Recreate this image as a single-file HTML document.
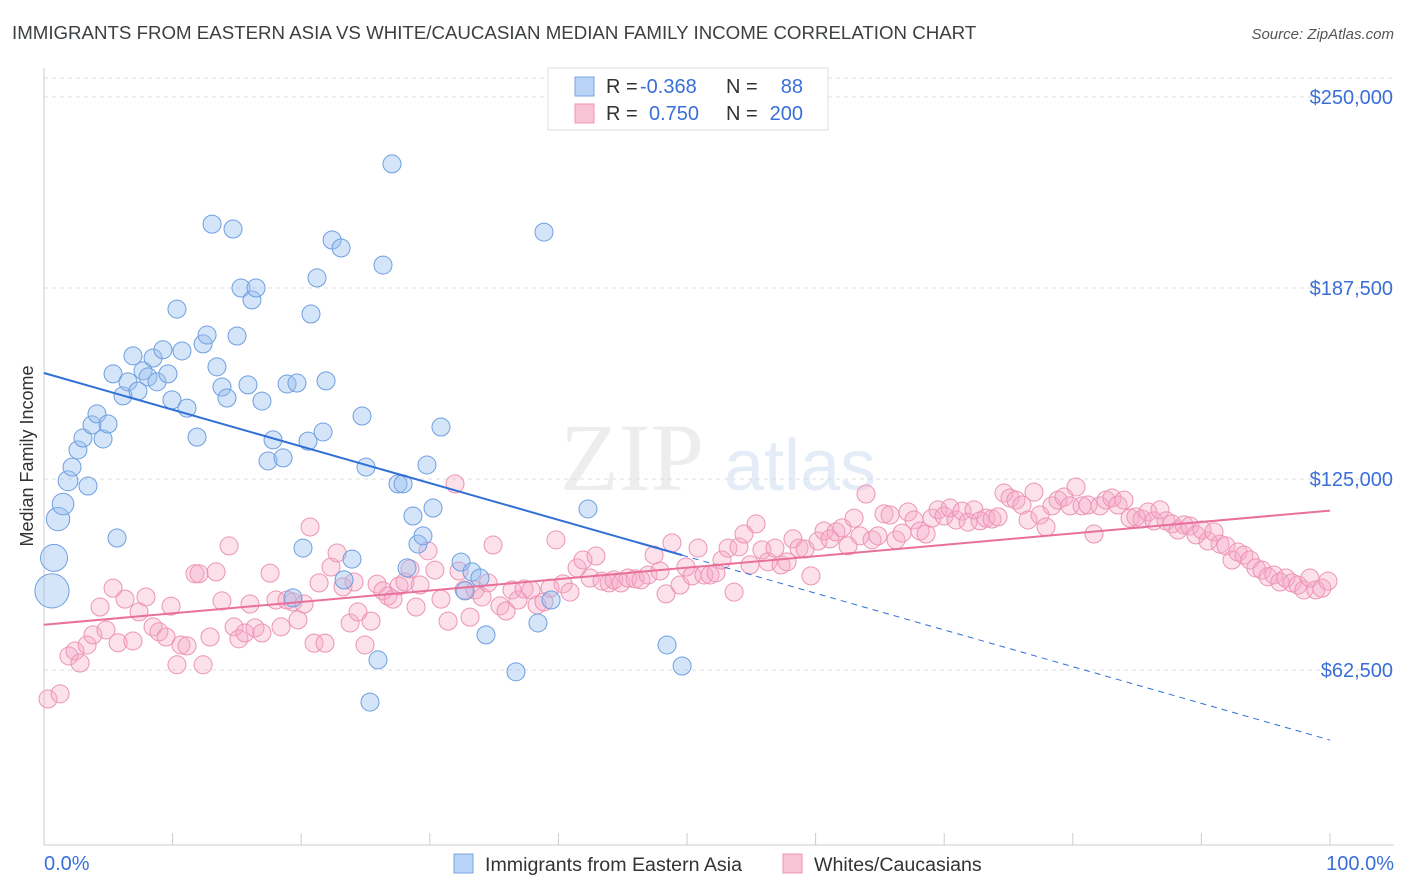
<!DOCTYPE html>
<html><head><meta charset="utf-8"><style>
body{margin:0;background:#fff;font-family:"Liberation Sans",sans-serif;}
svg{display:block}
</style></head><body>
<svg id="chart" width="1406" height="892" xmlns="http://www.w3.org/2000/svg">
<text x="12" y="39" font-size="18.7" fill="#3c4043">IMMIGRANTS FROM EASTERN ASIA VS WHITE/CAUCASIAN MEDIAN FAMILY INCOME CORRELATION CHART</text>
<text x="1394" y="39" font-size="15" fill="#555" text-anchor="end" font-style="italic">Source: ZipAtlas.com</text>
<text transform="translate(33,456) rotate(-90)" font-size="18" fill="#333" text-anchor="middle">Median Family Income</text>
<g opacity="0.5">
<text x="632" y="490" font-size="96" fill="#ddd" text-anchor="middle" font-family="Liberation Serif, serif">ZIP</text>
<text x="800" y="490" font-size="72" fill="#c9daf0" text-anchor="middle">atlas</text>
</g>
<g id="grid"></g><g id="axes"></g><g id="pts"></g><g id="lines"></g>
<g>
<rect x="548" y="68" width="280" height="62" fill="#fff" stroke="#ddd"/>
<rect x="575" y="77" width="19" height="19" fill="#b8d3f5" stroke="#7aa6e0"/>
<rect x="575" y="104" width="19" height="19" fill="#f9c3d6" stroke="#ec94b4"/>
<text x="606" y="93" font-size="20" fill="#333">R = </text><text x="640" y="93" font-size="20" fill="#3a6fd8">-0.368</text>
<text x="726" y="93" font-size="20" fill="#333">N = </text><text x="803" y="93" font-size="20" fill="#3a6fd8" text-anchor="end">88</text>
<text x="606" y="120" font-size="20" fill="#333">R = </text><text x="649" y="120" font-size="20" fill="#3a6fd8">0.750</text>
<text x="726" y="120" font-size="20" fill="#333">N = </text><text x="803" y="120" font-size="20" fill="#3a6fd8" text-anchor="end">200</text>
</g>
<g>
<rect x="454" y="854" width="19" height="19" fill="#b8d3f5" stroke="#7aa6e0"/>
<text x="485" y="871" font-size="19.6" fill="#333">Immigrants from Eastern Asia</text>
<rect x="783" y="854" width="19" height="19" fill="#f9c3d6" stroke="#ec94b4"/>
<text x="814" y="871" font-size="19.6" fill="#333">Whites/Caucasians</text>
</g>
</svg>
<script>
const yTicks=[62500,125000,187500,250000];
const yTickLabels=["$62,500","$125,000","$187,500","$250,000"];
const xLabels=["0.0%","100.0%"];
const blueX=[0.62,0.78,1.09,1.48,1.87,2.18,2.64,3.03,3.42,3.73,4.12,4.59,4.98,5.37,5.68,6.14,6.53,6.92,7.31,7.70,8.09,8.48,8.79,9.25,9.64,9.95,10.34,10.73,11.12,11.90,12.37,12.68,13.07,13.45,13.84,14.23,14.70,15.01,15.32,15.86,16.17,16.49,16.95,17.42,17.81,18.59,18.90,19.36,19.67,20.14,20.53,20.76,21.23,21.70,21.93,22.40,23.10,23.33,23.95,24.73,25.04,25.35,25.97,26.36,27.06,27.53,27.92,28.23,28.69,29.08,29.47,29.78,30.25,30.87,32.43,32.74,33.28,33.90,34.37,36.70,38.41,38.88,39.43,42.30,48.45,49.62];
const blueY=[88.4,99.2,111.9,116.8,124.4,128.9,134.5,138.4,122.7,142.7,146.3,138.1,143.0,159.4,105.7,152.2,156.8,165.3,153.8,160.4,158.4,164.6,156.8,167.3,159.4,150.9,180.6,166.9,148.2,138.7,169.2,172.1,208.4,161.7,155.1,151.5,206.8,171.8,187.5,155.8,183.6,187.5,150.5,130.9,137.8,131.9,156.1,86.1,156.4,102.4,137.4,179.0,190.8,140.4,157.1,203.2,200.6,92.0,98.8,145.6,128.9,52.0,65.8,195.0,228.1,123.4,123.4,95.9,112.9,103.7,106.4,129.6,115.5,142.0,97.8,88.4,94.6,92.6,74.0,61.9,77.9,205.8,85.4,115.2,70.7,63.8];
const blueSize=[1.9,1.5,1.3,1.2,1.1];
const pinkX=[0.31,1.25,1.94,2.41,2.80,3.35,3.81,4.36,4.82,5.37,5.76,6.30,6.92,7.39,7.93,8.48,8.94,9.49,9.88,10.34,10.65,11.12,11.74,12.05,12.37,12.91,13.38,13.84,14.39,14.78,15.16,15.63,16.02,16.41,16.95,17.58,18.04,18.43,18.90,19.36,19.75,20.22,20.69,21.00,21.39,21.85,22.32,22.79,23.25,23.80,24.11,24.42,24.96,25.43,25.90,26.36,26.75,27.14,27.61,28.07,28.46,28.93,29.24,29.86,30.40,30.87,31.42,31.96,32.27,32.66,33.13,33.52,34.06,34.53,34.92,35.46,35.93,36.39,36.86,37.33,37.87,38.34,38.88,39.35,39.81,40.36,40.90,41.45,41.91,42.46,42.92,43.39,43.94,44.32,44.87,45.41,45.96,46.42,46.97,47.44,47.90,48.37,48.83,49.46,49.92,50.39,50.86,51.32,51.79,52.26,52.72,53.19,53.66,54.04,54.43,54.90,55.37,55.83,56.30,56.84,57.31,57.78,58.24,58.71,59.18,59.64,60.19,60.66,61.12,61.59,62.06,62.52,62.99,63.45,63.92,64.39,64.85,65.32,65.79,66.25,66.72,67.19,67.65,68.12,68.59,69.05,69.52,69.99,70.45,70.92,71.39,71.85,72.32,72.79,73.25,73.72,74.19,74.65,75.12,75.58,76.05,76.52,76.98,77.45,77.92,78.38,78.85,79.32,79.78,80.25,80.72,81.18,81.65,82.11,82.58,83.05,83.51,83.98,84.45,84.91,85.38,85.85,86.31,86.78,87.25,87.71,88.18,88.65,89.11,89.58,90.05,90.51,90.98,91.45,91.91,92.38,92.84,93.31,93.78,94.24,94.71,95.18,95.64,96.11,96.57,97.04,97.51,97.97,98.44,98.90,99.37,99.84];
const pinkY=[53.0,54.7,67.1,68.7,64.8,70.7,74.0,83.1,75.6,89.3,71.4,85.7,72.0,81.5,86.4,76.6,75.0,73.3,83.4,64.2,70.7,70.4,94.0,94.0,64.2,73.3,94.6,85.1,103.1,76.6,72.7,74.6,84.1,76.3,74.6,94.2,85.4,76.6,85.4,84.8,78.9,84.1,109.3,71.3,91.0,71.3,96.2,100.8,89.7,77.9,91.3,81.5,70.7,78.5,90.6,88.4,86.7,85.7,90.0,91.3,95.6,83.1,90.3,101.5,95.2,85.7,78.5,123.4,94.9,88.7,79.8,88.7,86.4,91.0,103.4,83.5,81.8,88.7,85.4,89.0,88.7,83.8,84.8,89.3,105.1,90.7,88.0,95.9,98.5,92.6,99.8,91.6,91.0,92.0,91.0,92.6,92.3,92.0,93.6,100.1,94.9,87.4,104.1,90.3,96.2,93.3,102.4,93.6,93.6,94.3,98.5,102.4,88.0,102.8,107.0,96.9,110.3,101.8,97.9,102.4,96.9,97.9,105.4,102.4,102.1,93.3,104.7,108.0,105.4,107.7,109.0,103.1,112.2,106.4,120.1,105.1,106.4,113.6,113.2,105.1,107.3,114.2,111.6,108.0,107.0,112.2,114.9,112.9,115.5,111.6,114.5,110.9,114.9,111.3,112.2,111.9,112.6,120.4,118.8,118.1,116.5,111.6,120.7,113.2,109.3,116.2,118.1,119.1,116.2,122.4,116.2,116.5,107.0,116.2,118.1,118.8,116.5,118.1,112.2,112.6,111.9,114.2,111.3,114.9,111.3,110.3,108.3,110.0,109.6,106.7,108.3,104.7,107.7,103.7,103.1,98.5,101.1,100.1,98.5,95.9,95.2,93.0,93.6,91.3,92.6,91.0,90.3,88.7,92.6,88.7,89.3,91.6];

const NS="http://www.w3.org/2000/svg";
const X0=44,X1=1330,YT=97,PXPER=191/62500;
const sx=p=>X0+(X1-X0)*p/100;
const sy=v=>YT+(250000-v)*PXPER;
function mk(tag,attrs,parent){const e=document.createElementNS(NS,tag);for(const k in attrs)e.setAttribute(k,attrs[k]);parent.appendChild(e);return e;}
const grid=document.getElementById('grid'),axes=document.getElementById('axes'),pts=document.getElementById('pts'),lines=document.getElementById('lines');
let g=mk('line',{x1:X0,x2:1394,y1:78,y2:78,stroke:'#ddd','stroke-dasharray':'4,4'},grid);


yTicks.forEach((v,i)=>{
  const l=mk('line',{x1:X0,x2:1394,y1:sy(v),y2:sy(v),stroke:'#ddd','stroke-dasharray':'4,4'},grid);
  
  
  const t=mk('text',{x:1393,y:sy(v)+7,'font-size':20,fill:'#3a6fd8','text-anchor':'end'},axes);
  t.textContent=yTickLabels[i];
  
  
});
let ax=mk('line',{x1:X0,x2:X0,y1:68,y2:845,stroke:'#ccc'},axes);


let bx=mk('line',{x1:X0,x2:1394,y1:845,y2:845,stroke:'#ccc'},axes);


for(let i=0;i<=10;i++){const t=mk('line',{x1:sx(i*10),x2:sx(i*10),y1:833,y2:845,stroke:'#ccc'},axes);
  
  }
[[0,'start',44],[100,'end',1394]].forEach((d,i)=>{const t=mk('text',{x:d[2],y:870,'font-size':20,fill:'#3a6fd8','text-anchor':d[1]},axes);t.textContent=xLabels[i];
  
  });
pinkX.forEach((x,i)=>{const c=mk('circle',{cx:sx(x),cy:sy(pinkY[i]*1000),r:9,fill:'rgba(246,170,198,0.35)',stroke:'#ec94b4','stroke-width':1},pts);
  
  });
blueX.forEach((x,i)=>{const s=blueSize[i]||1;const c=mk('circle',{cx:sx(x),cy:sy(blueY[i]*1000),r:9*s,fill:'rgba(150,190,240,0.4)',stroke:'#6e9fe0','stroke-width':1},pts);
  
  });
function fit(X,Y){const n=X.length;let mx=0,my=0;X.forEach((x,i)=>{mx+=x;my+=Y[i];});mx/=n;my/=n;let sxy=0,sxx=0;X.forEach((x,i)=>{sxy+=(x-mx)*(Y[i]-my);sxx+=(x-mx)**2;});const b=sxy/sxx;return [my-b*mx,b];}
const bf=fit(blueX,blueY),pf=fit(pinkX,pinkY);
const bxMax=Math.max(...blueX);
let l1=mk('line',{x1:sx(0),y1:sy(bf[0]*1000),x2:sx(bxMax),y2:sy((bf[0]+bf[1]*bxMax)*1000),stroke:'#2f6fd6','stroke-width':2},lines);


let l2=mk('line',{x1:sx(bxMax),y1:sy((bf[0]+bf[1]*bxMax)*1000),x2:sx(100),y2:sy((bf[0]+bf[1]*100)*1000),stroke:'#2f6fd6','stroke-width':1,'stroke-dasharray':'6,5'},lines);


let l3=mk('line',{x1:sx(0),y1:sy(pf[0]*1000),x2:sx(100),y2:sy((pf[0]+pf[1]*100)*1000),stroke:'#e8709a','stroke-width':2},lines);


</script>
</body></html>
